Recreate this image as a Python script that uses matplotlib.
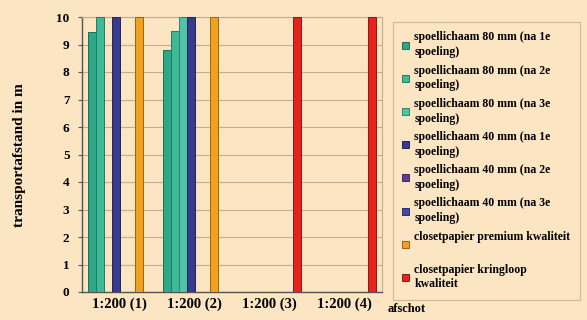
import matplotlib
matplotlib.use("Agg")
import matplotlib.pyplot as plt
import numpy as np

plt.rcParams.update({"font.family": "Liberation Serif", "font.weight": "bold"})

BG = "#fbe5c3"
GRID = "#c2ad8e"

groups = ["1:200 (1)", "1:200 (2)", "1:200 (3)", "1:200 (4)"]
series = [
    "spoellichaam 80 mm (na 1e\nspoeling)",
    "spoellichaam 80 mm (na 2e\nspoeling)",
    "spoellichaam 80 mm (na 3e\nspoeling)",
    "spoellichaam 40 mm (na 1e\nspoeling)",
    "spoellichaam 40 mm (na 2e\nspoeling)",
    "spoellichaam 40 mm (na 3e\nspoeling)",
    "closetpapier premium kwaliteit\n",
    "closetpapier kringloop\nkwaliteit",
]
s80_1 = [9.45, 8.8, 0, 0]
s80_2 = [10, 9.5, 0, 0]
s80_3 = [0, 10, 0, 0]
s40_1 = [10, 10, 0, 0]
s40_2 = [0, 0, 0, 0]
s40_3 = [0, 0, 0, 0]
premium = [10, 10, 0, 0]
kringloop = [0, 0, 10, 10]
values = [s80_1, s80_2, s80_3, s40_1, s40_2, s40_3, premium, kringloop]

colors = ["#2fa888", "#3db996", "#4cc6a6", "#3a3a8c", "#5c3f92", "#4546a8", "#f0a21e", "#e4231f"]
edges = ["#1d6e58", "#237a62", "#2b866c", "#22225c", "#3a2860", "#2b2c70", "#9c6410", "#8e1512"]

fig = plt.figure(figsize=(5.87, 3.2), dpi=100, facecolor=BG)
ax = fig.add_axes([82 / 587, 1 - 292 / 320, 300 / 587, 275 / 320], facecolor=BG)

n = len(values)
w = 1 / (n + 1.5)
x = np.arange(len(groups))
handles = []
for i, (vals, c, e) in enumerate(zip(values, colors, edges)):
    pos = x - 0.5 + 0.75 * w + i * w + w / 2
    b = ax.bar(pos, vals, width=w, color=c, edgecolor=e, lw=0.7, zorder=3)
    handles.append(b)

ax.set_xlim(-0.5, len(groups) - 0.5)
ax.set_ylim(0, 10)
ax.set_yticks(range(0, 11))
ax.yaxis.grid(True, color=GRID, lw=0.8, zorder=0)
ax.set_xticks(x)
ax.set_xticklabels(groups, fontsize=10.5, fontweight="bold")
ax.tick_params(axis="y", labelsize=9.5, length=3, color="#555", pad=6)
ax.tick_params(axis="x", length=0, pad=4)
for s in ("top", "right"):
    ax.spines[s].set_color(GRID)
    ax.spines[s].set_linewidth(0.8)
for s in ("left", "bottom"):
    ax.spines[s].set_color("#555")
    ax.spines[s].set_linewidth(1.0)

fig.text(20 / 587, 1 - 155 / 320, "transportafstand in m", rotation=90,
         ha="center", va="center", fontsize=11, fontweight="bold")
fig.text(388 / 587, 1 - 309 / 320, "afschot", ha="left", va="center",
         fontsize=9, fontweight="bold")

leg = fig.legend(handles, series, loc="upper left",
                 bbox_to_anchor=(393 / 587, 1 - 22 / 320),
                 prop={"family": "Liberation Serif", "weight": "bold", "size": 8.5},
                 frameon=True, fancybox=False, handlelength=0.55, handleheight=0.55,
                 handletextpad=0.45, labelspacing=0.55, borderpad=0.8,
                 borderaxespad=0)
for t in leg.get_texts():
    t.set_linespacing(1.3)
leg.get_frame().set_facecolor(BG)
leg.get_frame().set_edgecolor(GRID)
leg.get_frame().set_linewidth(0.8)

fig.savefig("out.png", dpi=100, facecolor=BG)
